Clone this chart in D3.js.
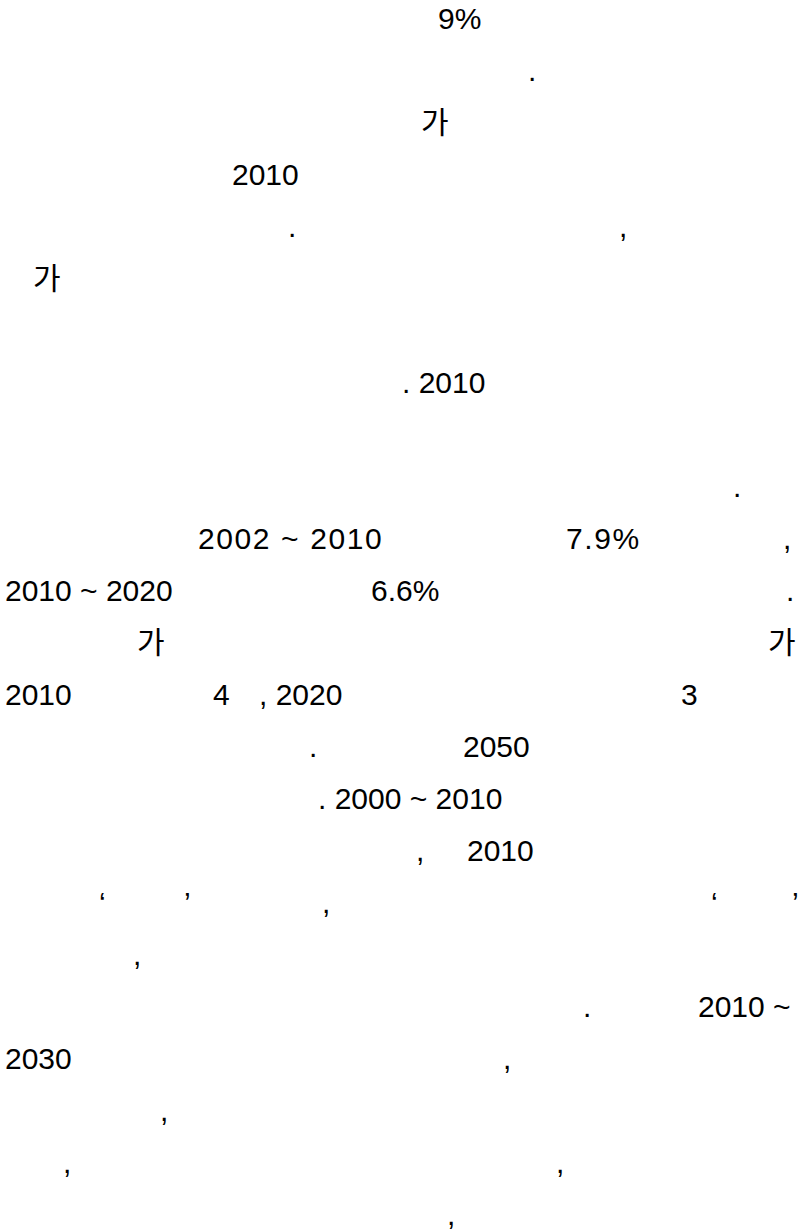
<!DOCTYPE html>
<html>
<head>
<meta charset="utf-8">
<script src="https://cdn.jsdelivr.net/npm/d3@7"></script>
<style>
  html, body { margin: 0; padding: 0; background: #fff; }
  svg text { font-family: "Liberation Sans", Arial, "Noto Sans CJK KR", sans-serif; font-size: 30px; fill: #000; }
</style>
</head>
<body>
<script>
// text fragments that survived on the page: [line, column, text]
var lineIndex = [0, 1, 2, 3, 4, 4, 5, 7, 9, 10, 10, 10, 11, 11, 11, 12, 12,
                 13, 13, 13, 13, 14, 14, 15, 16, 16, 17, 17, 17, 17, 17, 18,
                 19, 19, 20, 20, 21, 22, 22, 23];
var columns   = [438, 528, 421, 232, 288, 619, 33, 402, 733, 198, 566, 783, 5, 371, 786, 137, 768,
                 5, 213, 259, 681, 309, 463, 318, 416, 467, 99, 184, 322, 711, 792, 133,
                 583, 698, 5, 503, 160, 63, 556, 447];
var fragments = ["9%", ".", "가", "2010", ".", ",", "가", ". 2010", ".", "2002 ~ 2010", "7.9%", ",",
                 "2010 ~ 2020", "6.6%", ".", "가", "가",
                 "2010", "4", ", 2020", "3", ".", "2050", ". 2000 ~ 2010", ",", "2010",
                 "\u2018", "\u2019", ",", "\u2018", "\u2019", ",",
                 ".", "2010 ~", "2030", ",", ",", ",", ",", ","];
// fragments typeset with wider tracking
var spaced = ["2002 ~ 2010", "7.9%"];

var W = 798, H = 1231;
var svg = d3.select("body").append("svg")
    .attr("width", W)
    .attr("height", H);

var y = d3.scaleLinear().domain([0, 23]).range([29, 29 + 23 * 52]);
var x = d3.scaleLinear().domain([0, W]).range([0, W]);

var rows = fragments.map(function (t, i) {
  return { line: lineIndex[i], col: columns[i], text: t };
});

svg.selectAll("text.frag")
    .data(rows)
  .enter().append("text")
    .attr("class", "frag")
    .attr("x", function (d) { return x(d.col); })
    .attr("y", function (d) { return y(d.line); })
    .attr("letter-spacing", function (d) { return spaced.indexOf(d.text) >= 0 ? "1.6px" : null; })
    .text(function (d) { return d.text; });
</script>
</body>
</html>
